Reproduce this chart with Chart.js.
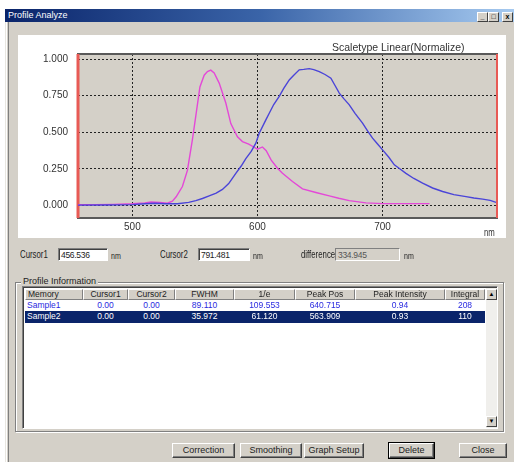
<!DOCTYPE html>
<html>
<head>
<meta charset="utf-8">
<script src="https://cdn.jsdelivr.net/npm/chart.js@4/dist/chart.umd.min.js"></script>
<style>
  html,body{margin:0;padding:0;background:#fff;}
  body{width:514px;height:462px;overflow:hidden;position:relative;font-family:"Liberation Sans",Arial,sans-serif;font-size:9px;color:#222;}
  .abs{position:absolute;}
  .win{left:5px;top:9px;width:515px;height:460px;background:#d4d0c8;border-left:1px solid #e8e6e0;box-shadow:inset 1px 0 0 #fff, inset 2px 0 0 #d4d0c8, inset 3px 0 0 #808080;}
  .title{left:5px;top:9px;width:509px;height:13px;background:linear-gradient(to right,#0a246a 0%,#3a64a8 50%,#a6caf0 100%);}
  .title span{position:absolute;left:3px;top:1px;color:#fff;font-size:9px;}
  .tb{top:12px;width:9px;height:8px;background:#d4d0c8;border:1px solid;border-color:#fff #404040 #404040 #fff;font-size:7px;line-height:8px;text-align:center;color:#000;font-weight:bold;}
  .panel{left:18px;top:35px;width:488px;height:203px;background:#fff;}
  .lbl{font-size:10px;color:#222;white-space:nowrap;}
  .nar{transform:scaleX(0.78);transform-origin:left center;}
  .inp{height:13px;background:#fff;border:1px solid;border-color:#808080 #fff #fff #808080;box-shadow:inset 1px 1px 0 #404040;font-size:8.5px;line-height:12px;padding-left:2px;box-sizing:border-box;color:#222;letter-spacing:-0.3px;}
  .inp.dis{background:#d4d0c8;color:#555;box-shadow:none;}
  .group{left:15px;top:282px;width:489px;height:150px;border:1px solid #808080;box-shadow:1px 1px 0 #fff, inset 1px 1px 0 #fff;box-sizing:border-box;}
  .glbl{left:21px;top:276px;padding:0 2px;background:#d4d0c8;font-size:9px;color:#222;}
  .list{left:22px;top:286px;width:476px;height:143px;background:#fff;border:1px solid;border-color:#808080 #fff #fff #808080;box-shadow:inset 1px 1px 0 #404040;box-sizing:border-box;}
  .hd{top:289px;height:11px;background:#d4d0c8;border:1px solid;border-color:#fff #808080 #808080 #fff;box-sizing:border-box;font-size:8.5px;line-height:9px;text-align:center;color:#222;white-space:nowrap;overflow:hidden;}
  .cell{height:11px;font-size:8.5px;line-height:11px;text-align:center;white-space:nowrap;overflow:hidden;}
  .r1{top:300px;color:#2a2ae0;}
  .r2{top:311px;color:#fff;}
  .sel{left:25px;top:311px;width:460px;height:12px;background:#0a246a;}
  .sb{left:486px;top:288px;width:11px;height:140px;background:#f0efec;}
  .sbb{width:11px;height:11px;background:#d4d0c8;border:1px solid;border-color:#fff #404040 #404040 #fff;box-sizing:border-box;font-size:6px;line-height:9px;text-align:center;color:#000;}
  .btn{top:443px;height:15px;background:#d4d0c8;border:1px solid;border-color:#fff #404040 #404040 #fff;box-shadow:inset -1px -1px 0 #808080;box-sizing:border-box;font-size:9px;line-height:13px;text-align:center;color:#222;}
  .btn.def{outline:1px solid #000;}
</style>
</head>
<body>
<div class="abs win"></div>
<div class="abs title"><span>Profile Analyze</span></div>
<div class="abs tb" style="left:477px;">_</div>
<div class="abs tb" style="left:488px;">&#9633;</div>
<div class="abs tb" style="left:502px;">x</div>

<div class="abs panel"></div>
<div class="abs" style="left:18px;top:35px;width:488px;height:203px;">
  <canvas id="c" width="488" height="203"></canvas>
</div>
<div class="abs lbl" id="ctitle" style="left:332px;top:41px;font-size:10.5px;color:#333;"></div>
<div class="abs lbl nar" style="left:484px;top:227px;color:#333;">nm</div>

<div class="abs lbl nar" style="left:20px;top:249px;">Cursor1</div>
<div class="abs inp" id="c1" style="left:58px;top:248px;width:50px;"></div>
<div class="abs lbl nar" style="left:111px;top:251px;font-size:9px;">nm</div>
<div class="abs lbl nar" style="left:160px;top:249px;">Cursor2</div>
<div class="abs inp" id="c2" style="left:198px;top:248px;width:52px;"></div>
<div class="abs lbl nar" style="left:253px;top:251px;font-size:9px;">nm</div>
<div class="abs lbl nar" style="left:301px;top:249px;">difference</div>
<div class="abs inp dis" id="df" style="left:335px;top:248px;width:65px;"></div>
<div class="abs lbl nar" style="left:404px;top:251px;font-size:9px;">nm</div>

<div class="abs group"></div>
<div class="abs glbl">Profile Information</div>
<div class="abs list"></div>
<div id="table"></div>
<div class="abs sb"></div>
<div class="abs sbb" style="left:486px;top:289px;">&#9650;</div>
<div class="abs sbb" style="left:486px;top:416px;">&#9660;</div>

<div class="abs btn" style="left:172px;width:63px;">Correction</div>
<div class="abs btn" style="left:240px;width:62px;">Smoothing</div>
<div class="abs btn" style="left:304px;width:60px;">Graph Setup</div>
<div class="abs btn def" style="left:389px;width:45px;">Delete</div>
<div class="abs btn" style="left:459px;width:48px;">Close</div>

<script>
// ---- data ----
const chartTitle = "Scaletype Linear(Normalize)";
const cursor1 = 456.536;
const cursor2 = 791.481;
const xTicks = [500, 600, 700];
const yTicks = [0, 0.25, 0.5, 0.75, 1.0];
const yMin = -0.085, yMax = 1.035;

// Sample1 (blue)
const wavelength1 = [456.5,480,500,510,518,526,536,545,550.7,556,561.4,567,572,577,582.7,587,590.7,595,598.7,601.4,606.7,609.4,613,617.4,621,625.4,629,633.4,637,641.4,645,649.4,654,658.7,662,665.4,669,673.4,678,684,688,692,696,700,705,709.4,714,718.7,725,732,740,748,757,766.7,773,780,786,790.7];
const sample1 = [0.003,0.004,0.006,0.012,0.016,0.012,0.012,0.022,0.034,0.048,0.066,0.085,0.11,0.15,0.22,0.27,0.32,0.37,0.426,0.494,0.585,0.63,0.69,0.745,0.80,0.858,0.89,0.927,0.93,0.935,0.928,0.915,0.895,0.87,0.82,0.768,0.73,0.688,0.63,0.563,0.51,0.46,0.42,0.38,0.33,0.278,0.25,0.22,0.185,0.153,0.12,0.096,0.075,0.061,0.052,0.044,0.035,0.022];

// Sample2 (pink)
const wavelength2 = [456.5,470,485,500,510,515,522,528,532,535,540,544,548,551,554,557.4,560,562.7,565.4,569.4,574.7,578.7,584,588,593,597,600,604,607,611,616,620,628,636,646.7,657.4,665,673.4,686.7,700,720,737.5];
const sample2 = [0.005,0.006,0.008,0.012,0.018,0.024,0.022,0.016,0.03,0.06,0.13,0.24,0.45,0.63,0.81,0.89,0.915,0.925,0.905,0.836,0.70,0.56,0.47,0.437,0.42,0.40,0.385,0.40,0.375,0.31,0.255,0.22,0.164,0.114,0.089,0.066,0.05,0.034,0.018,0.013,0.013,0.013];

// table
const columns = ["Memory","Cursor1","Cursor2","FWHM","1/e","Peak Pos","Peak Intensity","Integral"];
const row1 = ["Sample1","0.00","0.00","89.110","109.553","640.715","0.94","208"];
const row2 = ["Sample2","0.00","0.00","35.972","61.120","563.909","0.93","110"];
const colEdges = [25,83,128,175,234,295,355,445,485];

// ---- text fields ----
document.getElementById('ctitle').textContent = chartTitle;
document.getElementById('c1').textContent = cursor1.toFixed(3);
document.getElementById('c2').textContent = cursor2.toFixed(3);
document.getElementById('df').textContent = (cursor2 - cursor1).toFixed(3);

// ---- table ----
(function(){
  const t = document.getElementById('table');
  let html = '<div class="abs sel"></div>';
  for (let i = 0; i < columns.length; i++) {
    const l = colEdges[i], w = colEdges[i+1] - colEdges[i];
    html += `<div class="abs hd" style="left:${l}px;width:${w}px;${i===0?'text-align:left;padding-left:2px;':''}">${columns[i]}</div>`;
    html += `<div class="abs cell r1" style="left:${l}px;width:${w}px;${i===0?'text-align:left;padding-left:2px;':''}">${row1[i]}</div>`;
    html += `<div class="abs cell r2" style="left:${l}px;width:${w}px;${i===0?'text-align:left;padding-left:2px;':''}">${row2[i]}</div>`;
  }
  t.innerHTML = html;
})();

// ---- chart ----
const toPts = (xs, ys) => xs.map((x, i) => ({x: x, y: ys[i]}));

const plotBg = {
  id: 'plotBg',
  beforeDraw(chart) {
    const {ctx, chartArea: a} = chart;
    ctx.save();
    ctx.fillStyle = '#d4d0c8';
    ctx.fillRect(a.left, a.top, a.right - a.left, a.bottom - a.top);
    ctx.restore();
  },
  beforeDatasetsDraw(chart) {
    const {ctx, chartArea: a} = chart;
    ctx.save();
    ctx.strokeStyle = '#5a5a5a';
    ctx.lineWidth = 2;
    ctx.strokeRect(a.left, a.top, a.right - a.left, a.bottom - a.top);
    ctx.restore();
  }
};

new Chart(document.getElementById('c'), {
  type: 'line',
  data: {
    datasets: [
      {label: 'Sample1', data: toPts(wavelength1, sample1), borderColor: '#4a44d8', borderWidth: 1.4, pointRadius: 0, tension: 0},
      {label: 'Sample2', data: toPts(wavelength2, sample2), borderColor: '#e448d8', borderWidth: 1.4, pointRadius: 0, tension: 0},
      {label: 'Cursor1', data: [{x: cursor1, y: yMin}, {x: cursor1, y: yMax}], borderColor: '#e85a55', borderWidth: 3, pointRadius: 0, clip: 4},
      {label: 'Cursor2', data: [{x: cursor2, y: yMin}, {x: cursor2, y: yMax}], borderColor: '#e85a55', borderWidth: 2, pointRadius: 0, clip: 4}
    ]
  },
  options: {
    responsive: false,
    animation: false,
    events: [],
    layout: {padding: {left: 0, top: 19, right: 9, bottom: 0}},
    plugins: {legend: {display: false}, tooltip: {enabled: false}, title: {display: false}},
    scales: {
      x: {
        type: 'linear', min: cursor1, max: cursor2,
        afterBuildTicks: s => { s.ticks = xTicks.map(v => ({value: v})); },
        afterFit: s => { s.height = 20; },
        grid: {color: '#222', lineWidth: 1, drawTicks: false},
        border: {display: false, dash: [2, 2]},
        ticks: {color: '#333', font: {family: '"Liberation Sans", Arial', size: 10}, padding: 3, maxRotation: 0, callback: v => String(v)}
      },
      y: {
        type: 'linear', min: yMin, max: yMax,
        afterBuildTicks: s => { s.ticks = yTicks.map(v => ({value: v})); },
        afterFit: s => { s.width = 60; },
        grid: {color: '#222', lineWidth: 1, drawTicks: false},
        border: {display: false, dash: [2, 2]},
        ticks: {color: '#333', font: {family: '"Liberation Sans", Arial', size: 10}, padding: 10, callback: v => Number(v).toFixed(3)}
      }
    }
  },
  plugins: [plotBg]
});
</script>
</body>
</html>
